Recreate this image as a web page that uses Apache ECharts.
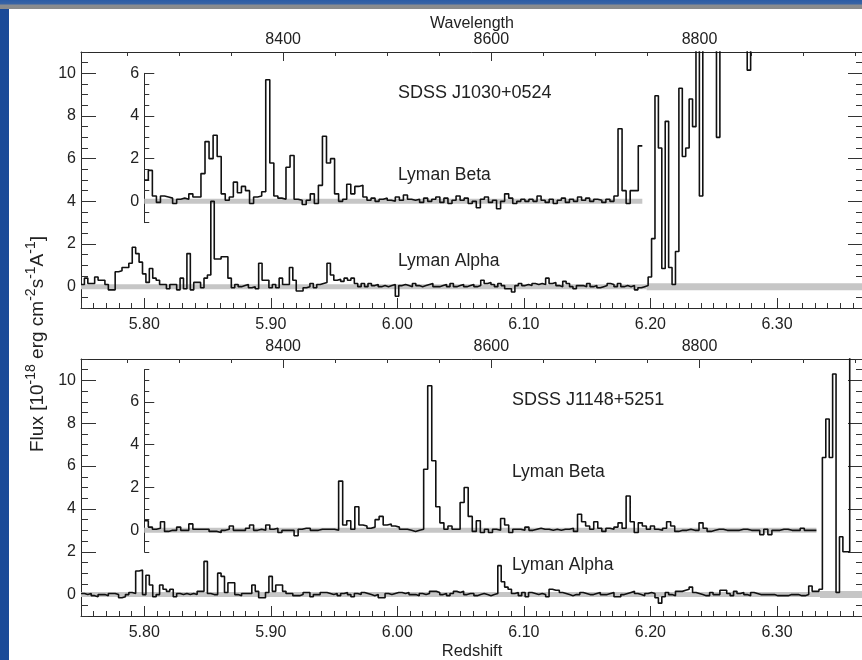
<!DOCTYPE html>
<html><head><meta charset="utf-8">
<script src="https://cdn.jsdelivr.net/npm/echarts@6/dist/echarts.min.js"></script>
<style>
html,body{margin:0;padding:0;width:862px;height:660px;overflow:hidden;background:linear-gradient(90deg,#1a4a98,#2457a6);}
#topband{position:absolute;left:0;top:0;width:862px;height:9px;background:linear-gradient(#2c5ca6 0,#3a64a4 4px,#8a8c90 5px,#8a8a8a 9px);}
#paper{position:absolute;left:9px;top:9px;width:853px;height:651px;background:#fff;}
#chart{position:absolute;left:0;top:0;width:862px;height:660px;}
</style></head>
<body>
<div id="topband"></div><div id="paper"></div><div id="chart"></div>
<script>
const LYA_REST = 1215.67;
const Z_MIN = 5.75, Z_MAX = 6.368;
const BETA_Z0 = 5.80;
const ALPHA_START = 5.75, ALPHA_BIN = 0.0027;
const BETA_START = 5.80, BETA_BIN = 0.0032;
const REDSHIFT_TICKS = [5.80, 5.90, 6.00, 6.10, 6.20, 6.30];
const WAVE_TICKS = [8400, 8600, 8800];
const WAVE_MINOR = [8250,8300,8350,8400,8450,8500,8550,8600,8650,8700,8750,8800,8850,8900,8950];
const FLUX_TICKS = [0, 2, 4, 6, 8, 10];
const INSET_TICKS = [0, 2, 4, 6];

const topAlpha = [
 0.1,0.4,0.15,0.15,0.45,0.3,0.3,0.1,-0.15,-0.15,
 0.7,0.75,0.9,0.9,1.1,1.85,1.55,1.15,0.6,0.2,
 0.85,0.4,0.3,0.1,0.1,-0.1,0.1,0.1,-0.15,0.4,
 -0.1,1.55,-0.15,0.2,0.2,-0.05,0.4,0.55,4.0,1.3,
 1.3,1.4,1.4,0.4,-0.05,0.1,0.0,0.05,0.1,-0.05,
 0.0,-0.1,1.1,0.3,0.3,-0.05,0.1,-0.05,0.4,0.1,
 0.1,0.9,0.3,-0.2,-0.2,-0.05,0.0,0.15,-0.05,0.1,
 0.15,0.2,1.1,0.55,0.3,0.35,0.25,0.4,0.3,0.4,
 0.15,0.0,0.15,0.0,0.15,0.05,0.1,0.0,0.05,0.0,
 0.05,0.1,-0.45,0.05,0.1,0.05,0.0,0.15,0.05,0.0,
 0.05,0.1,0.15,0.0,0.0,0.05,0.1,0.0,0.15,0.0,
 0.05,0.1,0.0,0.05,0.1,0.0,0.05,0.3,0.15,0.2,
 0.1,0.0,0.15,0.05,-0.1,-0.1,-0.25,0.05,0.15,0.05,
 0.1,0.05,0.15,0.1,0.15,0.1,0.4,0.15,0.2,0.05,
 0.0,0.25,0.15,0.0,-0.1,0.05,0.05,0.0,0.15,0.0,
 0.05,-0.05,0.0,0.05,0.15,0.1,0.0,0.15,0.0,0.05,
 0.0,0.05,-0.15,-0.05,0.0,0.05,0.45,2.25,8.95,6.5,
 0.85,7.75,0.9,0.1,1.65,9.3,6.1,6.5,8.8,7.5,
 13,4.25,13,13,13,13,7.0,13,13,13,
 13,13,13,13,13,10.15,13,13,13,13,
 13,13,13,13,13,13,13,13,13,13,
 13,13,13,13,13,13,13,13,13,13,
 13,13,13,13,13,13,13,13,13
];
const topBeta = [
 1.0,1.45,0.25,-0.05,0.25,0.2,0.15,-0.1,0.1,0.15,
 0.1,0.35,0.2,0.2,1.3,2.8,2.0,3.1,2.1,0.35,
 0.05,0.2,0.9,0.4,0.7,0.5,-0.1,0.2,0.25,0.45,
 5.7,1.8,0.25,0.15,0.1,1.6,2.15,0.1,0.05,-0.15,
 0.05,0.35,-0.1,0.75,3.05,1.8,2.0,0.35,0.0,0.1,
 0.8,0.35,0.7,0.75,0.2,0.05,0.15,0.0,0.1,0.15,
 0.05,0.0,0.2,0.05,0.3,0.1,0.05,0.1,-0.05,0.15,
 0.0,0.1,0.2,-0.05,0.15,-0.1,0.05,0.25,0.05,0.15,
 -0.1,0.0,-0.3,0.1,0.2,-0.05,0.05,-0.35,0.0,0.35,
 0.15,-0.1,0.0,0.1,0.0,0.1,0.0,0.25,0.05,-0.05,
 0.1,-0.1,0.05,0.15,-0.05,0.1,0.0,0.2,0.05,0.15,
 0.0,0.1,0.05,-0.05,0.1,0.0,0.25,3.4,0.5,-0.1,
 0.5,0.5,2.6
];
const botAlpha = [
 0.05,0.0,0.05,-0.05,-0.1,0.0,0.0,-0.05,0.05,0.05,
 0.0,-0.15,-0.1,0.0,0.1,0.05,1.1,1.15,0.0,0.9,
 0.45,-0.1,0.0,0.45,0.25,0.15,0.25,-0.1,0.05,0.0,
 0.05,0.0,0.05,0.0,0.15,0.15,1.55,0.05,0.0,0.0,
 1.0,0.85,0.1,0.55,0.55,0.0,-0.05,0.05,0.05,0.05,
 0.45,0.15,-0.15,-0.15,0.1,0.85,0.15,0.45,0.45,0.15,
 0.05,0.05,-0.05,-0.05,0.0,0.1,0.1,-0.1,0.0,0.0,
 0.1,0.1,0.05,0.0,0.05,-0.05,0.05,0.1,0.0,-0.1,
 0.05,0.0,0.1,0.05,0.0,-0.05,0.0,-0.15,-0.15,0.05,
 0.0,0.05,0.1,0.1,0.05,0.1,0.0,0.0,-0.05,0.05,
 0.0,0.05,0.15,0.15,0.1,0.0,0.05,-0.05,0.05,0.15,
 0.1,0.15,0.0,0.05,0.05,-0.05,0.0,0.05,0.0,-0.05,
 0.0,0.05,1.35,0.6,0.35,0.25,0.05,0.1,-0.05,0.1,
 -0.1,0.1,0.05,0.0,0.05,0.0,-0.1,0.25,0.2,0.2,
 0.1,0.05,0.0,-0.05,0.0,0.0,0.1,0.05,0.0,0.0,
 0.05,0.1,0.0,0.0,0.05,0.1,-0.1,-0.1,0.0,0.05,
 0.1,0.15,0.05,0.0,-0.05,0.05,0.1,0.05,-0.15,-0.4,
 -0.1,0.1,0.0,-0.05,0.15,0.15,0.2,0.25,0.35,0.1,
 0.05,0.0,-0.05,-0.05,0.1,0.0,0.0,0.2,0.2,0.05,
 -0.05,0.15,0.05,0.1,0.0,-0.05,0.1,0.05,0.0,0.0,
 0.0,0.0,0.0,-0.05,-0.05,-0.05,-0.05,0.0,0.0,0.0,
 -0.05,-0.05,0.0,0.4,0.15,0.15,0.25,6.4,8.2,6.4,
 10.3,0.1,2.7,2.0,2.0,13,13,13,13
];
const botBeta = [
 0.45,0.15,0.05,0.1,0.4,-0.05,0.0,0.0,0.15,0.0,
 0.0,0.3,0.05,0.05,0.05,0.05,-0.05,-0.05,-0.1,0.0,
 0.05,0.2,0.0,0.0,0.0,0.1,0.25,0.0,0.05,0.0,
 0.25,0.05,0.1,-0.1,0.0,0.0,0.0,-0.25,0.05,0.1,
 0.1,0.0,0.0,0.05,0.05,0.05,0.05,0.0,2.3,0.25,
 0.45,0.05,1.1,0.25,0.2,0.1,0.15,0.5,0.65,0.25,
 0.3,0.2,0.15,0.05,0.05,0.0,-0.05,0.0,0.05,2.85,
 6.75,3.25,1.1,0.35,0.05,0.2,0.05,0.05,1.3,2.0,
 0.65,-0.05,0.45,-0.1,0.05,-0.1,0.05,0.0,0.55,0.25,
 -0.1,0.05,0.05,0.0,0.15,0.0,0.05,0.1,0.05,0.05,
 0.0,0.05,0.0,0.05,0.05,0.1,-0.05,0.75,0.4,0.2,
 0.05,0.4,0.1,-0.05,0.1,0.05,0.15,0.35,0.1,1.6,
 0.4,-0.1,0.35,0.2,0.05,0.2,0.05,0.0,0.1,0.4,
 0.2,-0.05,0.0,0.0,0.05,0.0,0.0,0.35,0.1,-0.05,
 0.0,0.05,0.05,0.0,0.0,0.0,0.0,0.05,0.05,0.0,
 0.0,0.0,-0.2,0.05,-0.2,0.0,0.0,0.05,0.05,0.0,
 0.0,0.0,0.1,0.0,0.0,0.0
];
const topAlphaZero = [5.75, 6.197];
const topAlphaZeroNoisy = [6.197, 6.368];
const botAlphaZero = [5.75, 6.334];
const botAlphaZeroNoisy = [6.334, 6.368];
const topBetaZero = [5.80, 6.1936];
const botBetaZero = [5.80, 6.3312];

const FONT = '"Liberation Sans", Arial, Helvetica, sans-serif';
const AX = '#2a2a2a', TXT = '#222';
function stepData(start, width, vals) {
  const d = vals.map((v, i) => [+(start + i * width).toFixed(5), v]);
  d.push([+(start + vals.length * width).toFixed(5), vals[vals.length - 1]]);
  return d;
}
const grids = [], xAxes = [], yAxes = [], series = [];
const LEFT = 81, WIDTH = 782;
const insetLeft = LEFT + (BETA_Z0 - Z_MIN) / (Z_MAX - Z_MIN) * WIDTH;
const TK = {color: '#333', width: 1};

function addPanel(top, height, insetMax, opts) {
  const unit = height / 12;
  const gi = grids.length;
  grids.push({left: LEFT, top: top, width: WIDTH, height: height, outerBoundsMode: 'none', containLabel: false});
  const ii = grids.length;
  grids.push({left: insetLeft, width: LEFT + WIDTH - insetLeft,
    top: top + (11 - (insetMax + opts.offset)) * unit, height: (insetMax + 1) * unit,
    outerBoundsMode: 'none', containLabel: false});
  const lineS = {color: AX, width: 1};
  const xb = xAxes.length;
  xAxes.push({type: 'value', gridIndex: gi, position: 'bottom', min: Z_MIN, max: Z_MAX,
    axisLine: {show: true, onZero: false, lineStyle: lineS},
    axisTick: {show: true, inside: true, length: 10, customValues: REDSHIFT_TICKS, lineStyle: TK},
    axisLabel: {show: true, customValues: REDSHIFT_TICKS, formatter: v => v.toFixed(2), fontSize: 16, color: TXT, margin: 9, fontFamily: FONT},
    splitLine: {show: false},
    name: opts.zName ? 'Redshift' : '', nameLocation: 'middle', nameGap: 27,
    nameTextStyle: {fontSize: 16.5, color: TXT, fontFamily: FONT}});
  xAxes.push({type: 'value', gridIndex: gi, position: 'bottom', min: Z_MIN, max: Z_MAX, interval: 0.01,
    axisLine: {show: false, onZero: false}, axisTick: {show: true, inside: true, length: 5, lineStyle: TK},
    axisLabel: {show: false}, splitLine: {show: false}});
  xAxes.push({type: 'value', gridIndex: gi, position: 'top', min: LYA_REST * (1 + Z_MIN), max: LYA_REST * (1 + Z_MAX),
    axisLine: {show: true, onZero: false, lineStyle: lineS},
    axisTick: {show: true, inside: true, length: 9, customValues: WAVE_TICKS, lineStyle: TK},
    axisLabel: {show: true, customValues: WAVE_TICKS, formatter: v => String(Math.round(v)), fontSize: 16, color: TXT, margin: 4, fontFamily: FONT},
    splitLine: {show: false},
    name: opts.waveName ? 'Wavelength' : '', nameLocation: 'middle', nameGap: 14,
    nameTextStyle: {fontSize: 16, color: TXT, fontFamily: FONT}});
  xAxes.push({type: 'value', gridIndex: gi, position: 'top', min: LYA_REST * (1 + Z_MIN), max: LYA_REST * (1 + Z_MAX),
    axisLine: {show: false, onZero: false},
    axisTick: {show: true, inside: true, length: 4, customValues: WAVE_MINOR, lineStyle: TK},
    axisLabel: {show: false}, splitLine: {show: false}});
  const xi = xAxes.length;
  xAxes.push({type: 'value', gridIndex: ii, min: BETA_Z0, max: Z_MAX, show: false});

  const yl = yAxes.length;
  yAxes.push({type: 'value', gridIndex: gi, position: 'left', min: -1, max: 11,
    axisLine: {show: true, onZero: false, lineStyle: lineS},
    axisTick: {show: true, inside: true, length: 15, customValues: FLUX_TICKS, lineStyle: TK},
    axisLabel: {show: true, customValues: FLUX_TICKS, fontSize: 16, color: TXT, margin: 5, fontFamily: FONT},
    splitLine: {show: false}});
  yAxes.push({type: 'value', gridIndex: gi, position: 'left', min: -1, max: 11, interval: 0.5,
    axisLine: {show: false, onZero: false}, axisTick: {show: true, inside: true, length: 7, lineStyle: TK},
    axisLabel: {show: false}, splitLine: {show: false}});
  yAxes.push({type: 'value', gridIndex: gi, position: 'right', min: -1, max: 11,
    axisLine: {show: true, onZero: false, lineStyle: lineS},
    axisTick: {show: true, inside: true, length: 15, customValues: FLUX_TICKS, lineStyle: TK},
    axisLabel: {show: false}, splitLine: {show: false}});
  yAxes.push({type: 'value', gridIndex: gi, position: 'right', min: -1, max: 11, interval: 0.5,
    axisLine: {show: false, onZero: false}, axisTick: {show: true, inside: true, length: 7, lineStyle: TK},
    axisLabel: {show: false}, splitLine: {show: false}});
  const yi = yAxes.length;
  yAxes.push({type: 'value', gridIndex: ii, position: 'left', min: -1, max: insetMax,
    axisLine: {show: true, onZero: false, lineStyle: lineS},
    axisTick: {show: true, inside: true, length: 10, customValues: INSET_TICKS, lineStyle: TK},
    axisLabel: {show: true, customValues: INSET_TICKS, fontSize: 16, color: TXT, margin: 5, fontFamily: FONT},
    splitLine: {show: false}});
  yAxes.push({type: 'value', gridIndex: ii, position: 'left', min: -1, max: insetMax, interval: 0.5,
    axisLine: {show: false, onZero: false}, axisTick: {show: true, inside: true, length: 5, lineStyle: TK},
    axisLabel: {show: false}, splitLine: {show: false}});

  const grey = (xIdx, yIdx, ext, w) => ({type: 'line', xAxisIndex: xIdx, yAxisIndex: yIdx, silent: true,
    symbol: 'none', data: [[ext[0], 0], [ext[1], 0]], lineStyle: {color: '#c6c6c6', width: w}, z: 1});
  const spec = (xIdx, yIdx, data) => ({type: 'line', xAxisIndex: xIdx, yAxisIndex: yIdx, silent: true,
    symbol: 'none', step: 'end', data: data, lineStyle: {color: '#111', width: 1.6}, z: 3, clip: true});
  series.push(grey(xb, yl, opts.alphaZero, 5));
  series.push(grey(xb, yl, opts.alphaZeroNoisy, 7));
  series.push(grey(xi, yi, opts.betaZero, 5));
  series.push(spec(xb, yl, stepData(ALPHA_START, ALPHA_BIN, opts.alpha)));
  series.push(spec(xi, yi, stepData(BETA_START, BETA_BIN, opts.beta)));
}

addPanel(52, 256, 6, {offset: 4, waveName: true, zName: false, alpha: topAlpha, beta: topBeta,
  alphaZero: topAlphaZero, alphaZeroNoisy: topAlphaZeroNoisy, betaZero: topBetaZero});
addPanel(359, 257, 7.5, {offset: 3, waveName: false, zName: true, alpha: botAlpha, beta: botBeta,
  alphaZero: botAlphaZero, alphaZeroNoisy: botAlphaZeroNoisy, betaZero: botBetaZero});

const txt = (x, y, s, size) => ({type: 'text', x: x, y: y, silent: true, z: 10,
  style: {text: s, fontSize: size, fontFamily: FONT, fill: TXT, verticalAlign: 'middle', align: 'left'}});

const chart = echarts.init(document.getElementById('chart'), null, {renderer: 'canvas'});
chart.setOption({
  animation: false,
  backgroundColor: 'transparent',
  textStyle: {fontFamily: FONT},
  grid: grids, xAxis: xAxes, yAxis: yAxes, series: series,
  graphic: [
    txt(398, 93, 'SDSS J1030+0524', 18),
    txt(398, 175, 'Lyman Beta', 17.5),
    txt(398, 261, 'Lyman Alpha', 17.5),
    txt(512, 400, 'SDSS J1148+5251', 18),
    txt(512, 472, 'Lyman Beta', 17.5),
    txt(512, 565, 'Lyman Alpha', 17.5),
    {type: 'text', x: 36, y: 344, rotation: Math.PI / 2, silent: true, z: 10,
     style: {text: '{b|Flux [10}{s|-18}{b| erg cm}{s|-2}{b|s}{s|-1}{b|A}{s|-1}{b|]}',
       align: 'center', verticalAlign: 'middle', fontFamily: FONT, fill: TXT,
       rich: {
         b: {fontSize: 19, fontFamily: FONT, fill: TXT, color: TXT, verticalAlign: 'bottom'},
         s: {fontSize: 14, fontFamily: FONT, fill: TXT, color: TXT, verticalAlign: 'bottom', padding: [0, 0, 9, 0]}
       }}}
  ]
});
</script>
</body></html>
